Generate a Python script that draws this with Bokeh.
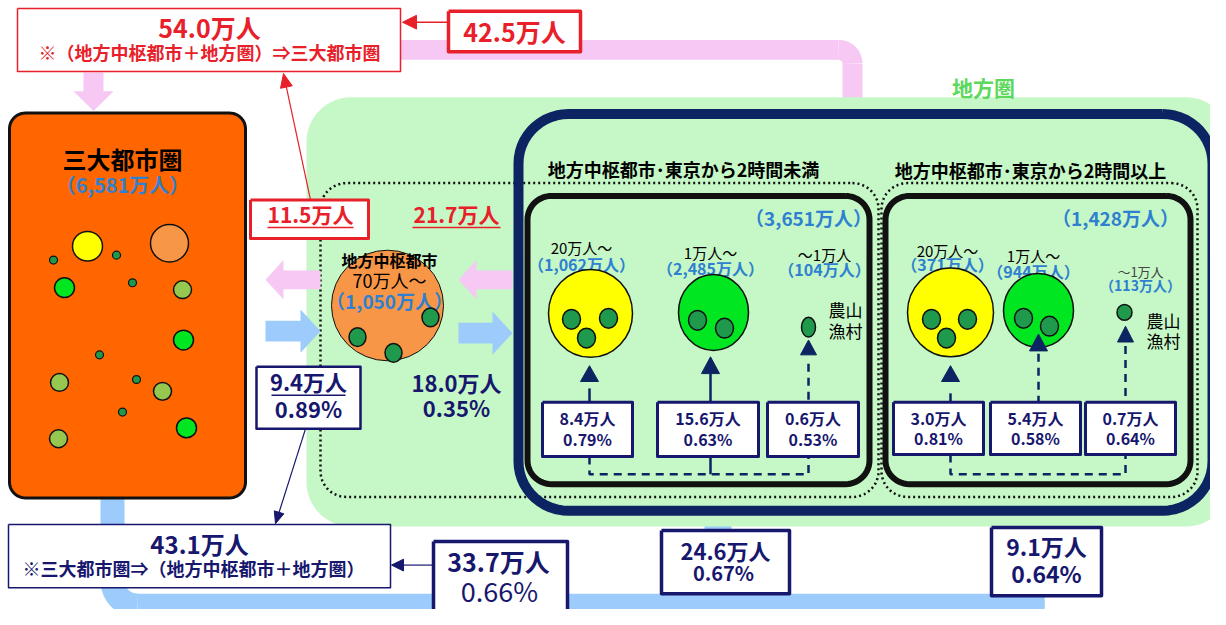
import numpy as np
from bokeh.plotting import figure
from bokeh.models import Range1d
from bokeh.embed import file_html
from bokeh.resources import INLINE
from bokeh.core.properties import value

# ---------------- data ----------------
metro_name = "三大都市圏"
metro_pop = "（6,581万人）"
region_name = "地方圏"
hub_lines = ["地方中枢都市", "70万人～", "（1,050万人）"]
group_titles = ["地方中枢都市･東京から2時間未満", "地方中枢都市･東京から2時間以上"]
group_pops = ["（3,651万人）", "（1,428万人）"]
size_classes = ["20万人～", "1万人～", "～1万人"]
near_pops = ["（1,062万人）", "（2,485万人）", "（104万人）"]
far_pops = ["（371万人）", "（944万人）", "（113万人）"]
near_inflow = ["8.4万人", "15.6万人", "0.6万人"]
near_rate = ["0.79%", "0.63%", "0.53%"]
far_inflow = ["3.0万人", "5.4万人", "0.7万人"]
far_rate = ["0.81%", "0.58%", "0.64%"]
village = ["農山", "漁村"]
to_metro_total = ["54.0万人", "※（地方中枢都市＋地方圏）⇒三大都市圏"]
to_metro_region = "42.5万人"
to_metro_hub = "11.5万人"
region_to_hub = "21.7万人"
from_metro_total = ["43.1万人", "※三大都市圏⇒（地方中枢都市＋地方圏）"]
metro_to_hub = ["9.4万人", "0.89%"]
hub_to_region = ["18.0万人", "0.35%"]
metro_to_region = ["33.7万人", "0.66%"]
metro_to_near = ["24.6万人", "0.67%"]
metro_to_far = ["9.1万人", "0.64%"]

# ---------------- styles ----------------
FONT = "Noto Sans CJK JP"
RED = "#e8202a"
NAVY = "#17176e"
NAVY2 = "#0c2461"
BLUE_T = "#2f80d0"
PINK = "#f6c8f3"
LBLUE = "#9dcbfb"
GREEN_BG = "#c6f7c6"
ORANGE = "#ff6600"
ORANGE2 = "#f79646"
YELLOW = "#ffff00"
BGREEN = "#00e620"
LGREEN = "#96c850"
DGREEN = "#1f9a4c"

p = figure(width=1210, height=609, x_range=Range1d(0, 1210), y_range=Range1d(617, 0),
           output_backend="svg", toolbar_location=None, min_border=0,
           x_axis_location=None, y_axis_location=None, outline_line_color=None,
           background_fill_color="white", border_fill_color="white")
p.xgrid.visible = False
p.ygrid.visible = False


def rr(x0, y0, x1, y1, r, n=14):
    xs, ys = [], []
    for cx, cy, a0 in [(x1 - r, y0 + r, -90), (x1 - r, y1 - r, 0), (x0 + r, y1 - r, 90), (x0 + r, y0 + r, 180)]:
        t = np.radians(np.linspace(a0, a0 + 90, n))
        xs += list(cx + r * np.cos(t))
        ys += list(cy + r * np.sin(t))
    return xs + [xs[0]], ys + [ys[0]]


def box(x0, y0, x1, y1, r=0, fill=None, line=None, lw=1.0, dash="solid"):
    if r > 0:
        xs, ys = rr(x0, y0, x1, y1, r)
    else:
        xs, ys = [x0, x1, x1, x0, x0], [y0, y0, y1, y1, y0]
    if fill:
        p.patch(xs, ys, fill_color=fill, line_color=None)
    if line:
        p.line(xs, ys, line_color=line, line_width=lw, line_dash=dash, line_join="round")


def txt(x, y, s, size, color="black", bold=True, align="center"):
    p.text([x], [y], text=[s], text_font=value(FONT), text_font_size=f"{size}px",
           text_color=color, text_font_style="bold" if bold else "normal",
           text_align=align, text_baseline="middle")


def arc_line(cx, cy, r, a0, a1, color, w):
    t = np.radians(np.linspace(a0, a1, 20))
    p.line(list(cx + r * np.cos(t)), list(cy + r * np.sin(t)), line_color=color, line_width=w)


def head(tx, ty, fx, fy, L, W, color):
    d = np.hypot(tx - fx, ty - fy)
    ux, uy = (tx - fx) / d, (ty - fy) / d
    bx, by = tx - ux * L, ty - uy * L
    px, py = -uy, ux
    p.patch([tx, bx + px * W, bx - px * W], [ty, by + py * W, by - py * W], fill_color=color, line_color=color)
    return bx, by


def thin_arrow(fx, fy, tx, ty, color, lw=1.5, L=12, W=6):
    bx, by = head(tx, ty, fx, fy, L, W, color)
    p.line([fx, bx], [fy, by], line_color=color, line_width=lw)


def big_harrow(x_tail, x_tip, yc, sh, hh, hl, color):
    s = 1 if x_tip > x_tail else -1
    xb = x_tip - s * hl
    p.patch([x_tail, xb, xb, x_tip, xb, xb, x_tail],
            [yc - sh, yc - sh, yc - hh, yc, yc + hh, yc + sh, yc + sh],
            fill_color=color, line_color=None)


def ell(x, y, w, h, fill, lw=1.5):
    p.ellipse([x], [y], width=w, height=h, fill_color=fill, line_color="#111111", line_width=lw)


# ---------------- bands ----------------
p.quad(left=400, right=838, top=40, bottom=60, fill_color=PINK, line_color=None)
arc_line(838, 64, 14, -90, 0, PINK, 20)
p.quad(left=842, right=862, top=64, bottom=115, fill_color=PINK, line_color=None)
p.quad(left=100, right=124, top=495, bottom=588, fill_color=LBLUE, line_color=None)
arc_line(137, 588, 25, 90, 180, LBLUE, 24)
p.quad(left=137, right=1044, top=601, bottom=625, fill_color=LBLUE, line_color=None)
p.quad(left=1020, right=1044, top=515, bottom=625, fill_color=LBLUE, line_color=None)
p.quad(left=704, right=731, top=515, bottom=601, fill_color=LBLUE, line_color=None)

# ---------------- regions ----------------
box(306, 98, 1230, 533, r=45, fill=GREEN_BG)
txt(983, 88, region_name, 21, color="#5cd85c")

box(9, 114, 245, 504, r=16, fill=ORANGE, line="#111111", lw=3)

box(320, 185, 878, 503, r=26, line="#111111", lw=2.5, dash="2 3")
box(881, 185, 1197, 503, r=26, line="#111111", lw=2.5, dash="2 3")
box(518, 115, 1212, 517, r=50, line=NAVY2, lw=10)
box(527, 198, 869, 490, r=24, line="#111111", lw=6)
box(885, 198, 1190, 490, r=24, line="#111111", lw=6)

# ---------------- metro box contents ----------------
txt(122, 160, metro_name, 24)
txt(122, 186, metro_pop, 20, color=BLUE_T)
ell(87, 249, 30, 30, YELLOW)
ell(169, 246, 38, 38, ORANGE2)
for x, y in [(64, 291), (183, 344), (186, 433)]:
    ell(x, y, 20, 20, BGREEN)
for x, y in [(182, 293), (59, 387), (162, 396), (58, 444)]:
    ell(x, y, 18, 18, LGREEN)
for x, y in [(53, 263), (116, 258), (132, 286), (99, 359), (136, 384), (122, 417)]:
    ell(x, y, 8, 8, DGREEN, lw=1.2)

# ---------------- hub ----------------
ell(387, 309, 112, 112, ORANGE2, lw=1)
txt(389, 263, hub_lines[0], 16)
txt(389, 283, hub_lines[1], 18, bold=False)
txt(389, 304, hub_lines[2], 19, color=BLUE_T)
for x, y in [(430, 321), (357, 341), (393, 357)]:
    ell(x, y, 17, 19, DGREEN)

big_harrow(320, 265, 283, 9.5, 20, 18, PINK)
big_harrow(512, 458, 283, 9.5, 20, 18, PINK)
big_harrow(265, 320, 335, 10.5, 22, 20, LBLUE)
big_harrow(458, 512, 337, 10.5, 22, 20, LBLUE)
p.patch([83, 83, 73, 93, 113, 103, 103], [73, 92, 92, 112, 92, 92, 73], fill_color=PINK, line_color=None)

box(250, 202, 368, 241, fill="white", line=RED, lw=3)
txt(310, 216, to_metro_hub, 21, color=RED)
p.line([267, 353], [230, 230], line_color=RED, line_width=1.5)
txt(456, 216, region_to_hub, 21, color=RED)
p.line([412, 500], [230, 230], line_color=RED, line_width=1.5)

box(256, 371, 360, 434, fill="white", line=NAVY, lw=2.5)
txt(308, 385, metro_to_hub[0], 22, color=NAVY)
p.line([271, 345], [400, 400], line_color=NAVY, line_width=1.5)
txt(308, 413, metro_to_hub[1], 22, color=NAVY)
txt(456, 387, hub_to_region[0], 22, color=NAVY)
txt(456, 412, hub_to_region[1], 22, color=NAVY)

# ---------------- groups ----------------
txt(683, 171, group_titles[0], 18)
txt(1030, 172, group_titles[1], 18)
txt(808, 220, group_pops[0], 19, color=BLUE_T)
txt(1115, 220, group_pops[1], 19, color=BLUE_T)

near_lx = [581, 710, 824]
near_y1 = [250, 255, 257]
near_y2 = [267, 271, 272]
for i in range(3):
    txt(near_lx[i], near_y1[i], size_classes[i], 15, bold=False)
    txt(near_lx[i], near_y2[i], near_pops[i], 16, color=BLUE_T)
ell(590, 317, 84, 89, YELLOW)
for x, y in [(571, 323), (608, 322), (586, 342)]:
    ell(x, y, 18, 20, DGREEN)
ell(713, 316, 70, 77, BGREEN)
for x, y in [(697, 324), (724, 332)]:
    ell(x, y, 18, 20, DGREEN)
ell(808, 331, 14, 20, DGREEN)
txt(845, 313, village[0], 17, bold=False)
txt(845, 334, village[1], 17, bold=False)

far_lx = [947, 1033, 1140]
far_y1 = [253, 258, 275]
far_y2 = [267, 274, 288]
far_s1 = [15, 15, 13]
far_s2 = [16, 16, 14]
for i in range(3):
    txt(far_lx[i], far_y1[i], size_classes[i], far_s1[i], color="#444444" if i == 2 else "black", bold=False)
    txt(far_lx[i], far_y2[i], far_pops[i], far_s2[i], color=BLUE_T)
ell(950, 316, 86, 90, YELLOW)
for x, y in [(931, 323), (967, 323), (946, 342)]:
    ell(x, y, 18, 20, DGREEN)
ell(1038, 314, 70, 75, BGREEN)
for x, y in [(1023, 322), (1049, 330)]:
    ell(x, y, 18, 20, DGREEN)
ell(1124, 316, 15, 16, DGREEN)
txt(1163, 324, village[0], 17, bold=False)
txt(1163, 344, village[1], 17, bold=False)


def tri(x, ytip, w=9, h=16):
    p.patch([x, x - w, x + w], [ytip, ytip + h, ytip + h], fill_color=NAVY2, line_color=NAVY2)


tri(589, 370); p.line([589, 589], [393, 407], line_color=NAVY2, line_width=2.5)
tri(710, 361, 9, 17); p.line([710, 710], [378, 407], line_color=NAVY2, line_width=2.5)
tri(808, 344, 8, 15); p.line([808, 808], [368, 407], line_color=NAVY2, line_width=2.5, line_dash="8 6")
tri(950, 370); p.line([950, 950], [398, 407], line_color=NAVY2, line_width=2.5)
tri(1038, 338, 9, 17); p.line([1038, 1038], [358, 407], line_color=NAVY2, line_width=2.5, line_dash="8 6")
tri(1125, 330, 8, 16); p.line([1125, 1125], [350, 407], line_color=NAVY2, line_width=2.5, line_dash="8 6")

p.line([589, 589, 808, 808], [462, 480, 480, 462], line_color=NAVY2, line_width=2.5, line_dash="8 6")
p.line([710, 710], [462, 480], line_color=NAVY2, line_width=2.5)
p.line([950, 950, 1125, 1125], [460, 480, 480, 460], line_color=NAVY2, line_width=2.5, line_dash="8 6")

near_bx = [(542, 632), (657, 758), (767, 858)]
far_bx = [(893, 983), (990, 1080), (1085, 1175)]
for (x0, x1), a, b in zip(near_bx, near_inflow, near_rate):
    box(x0, 407, x1, 462, fill="white", line=NAVY, lw=3)
    txt((x0 + x1) / 2, 423, a, 16, color=NAVY)
    txt((x0 + x1) / 2, 444, b, 16, color=NAVY)
for (x0, x1), a, b in zip(far_bx, far_inflow, far_rate):
    box(x0, 407, x1, 460, fill="white", line=NAVY, lw=3)
    txt((x0 + x1) / 2, 423, a, 16, color=NAVY)
    txt((x0 + x1) / 2, 443, b, 16, color=NAVY)

# ---------------- top boxes ----------------
box(17, 8, 400, 72, fill="white", line=RED, lw=1.5)
txt(209, 27, to_metro_total[0], 25, color=RED)
txt(209, 52, to_metro_total[1], 18, color=RED)
box(448, 11, 580, 52, fill="white", line=RED, lw=3.5)
txt(514, 31, to_metro_region, 25, color=RED)
thin_arrow(447, 22, 402, 22, RED, lw=1.5, L=14, W=7)
thin_arrow(310, 202, 283, 74, RED, lw=1.2, L=14, W=6)

# ---------------- bottom boxes ----------------
box(8, 531, 390, 595, fill="white", line=NAVY, lw=1.5)
txt(199, 550, from_metro_total[0], 24, color=NAVY)
txt(193, 575, from_metro_total[1], 18, color=NAVY)
thin_arrow(305, 434, 275, 530, NAVY, lw=1.2, L=12, W=5)
thin_arrow(433, 572, 391, 572, NAVY, lw=1.2, L=12, W=6)

box(433, 548, 567, 620, fill="white", line=NAVY, lw=3.5)
txt(498, 568, metro_to_region[0], 25, color=NAVY)
txt(499, 598, metro_to_region[1], 27, color=NAVY, bold=False)

box(661, 537, 789, 601, fill="white", line=NAVY, lw=3.5)
txt(725, 557, metro_to_near[0], 22, color=NAVY)
txt(723, 580, metro_to_near[1], 20, color=NAVY)

box(991, 534, 1101, 603, fill="white", line=NAVY, lw=3.5)
txt(1046, 553, metro_to_far[0], 23, color=NAVY)
txt(1046, 580, metro_to_far[1], 23, color=NAVY)

open("out.html", "w").write(file_html(p, INLINE))
